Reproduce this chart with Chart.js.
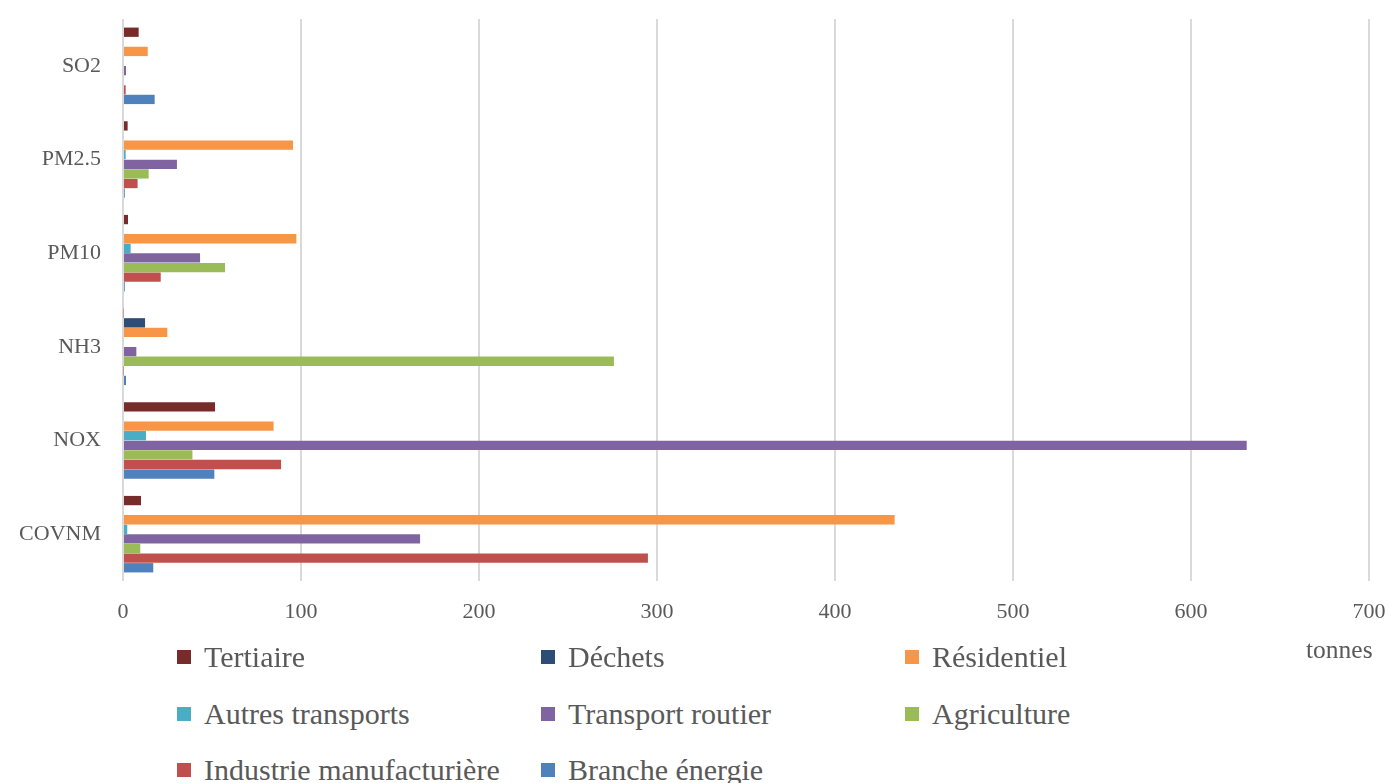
<!DOCTYPE html>
<html>
<head>
<meta charset="utf-8">
<script src="https://cdn.jsdelivr.net/npm/chart.js@4"></script>
<style>
  html, body { margin:0; padding:0; background:#fff; width:1389px; height:783px; overflow:hidden; }
  #wrap { position:absolute; left:0; top:0; width:1389px; height:640px; }
  .leg { position:absolute; display:flex; align-items:center; font-family:'Liberation Serif', serif; font-size:30px; color:#595959; white-space:nowrap; height:40px; }
  .leg .sw { width:14px; height:14px; margin-right:13px; }
  #unit { position:absolute; left:1306px; top:635px; font-family:'Liberation Serif', serif; font-size:25.5px; color:#595959; }
</style>
</head>
<body>
<div id="wrap"><canvas id="c"></canvas></div>
<div id="unit">tonnes</div>
<div id="legend"></div>
<script>
// Categories (top to bottom)
const categories = ['SO2', 'PM2.5', 'PM10', 'NH3', 'NOX', 'COVNM'];
const xTicks = [0, 100, 200, 300, 400, 500, 600, 700];
const seriesNames = ['Tertiaire', 'Déchets', 'Résidentiel', 'Autres transports', 'Transport routier', 'Agriculture', 'Industrie manufacturière', 'Branche énergie'];
const seriesColors = ['#772C2A', '#2C4D75', '#F79646', '#4BACC6', '#8064A2', '#9BBB59', '#C0504D', '#4F81BD'];

// Values per series, order: SO2, PM2.5, PM10, NH3, NOX, COVNM
const tertiaire        = [8.8, 2.6, 2.8, 0.4, 51.7, 10.1];
const dechets          = [0, 0, 0, 12.4, 0, 0];
const residentiel      = [13.9, 95.5, 97.4, 24.9, 84.6, 433.5];
const autresTransports = [0, 1.5, 4.3, 0, 12.9, 2.4];
const transportRoutier = [1.7, 30.3, 43.3, 7.5, 631.3, 166.9];
const agriculture      = [0, 14.4, 57.3, 275.8, 39.0, 9.7];
const industrie        = [1.5, 8.2, 21.2, 0.3, 88.8, 294.9];
const brancheEnergie   = [17.8, 1.0, 1.0, 1.7, 51.3, 17.0];

const seriesValues = [tertiaire, dechets, residentiel, autresTransports, transportRoutier, agriculture, industrie, brancheEnergie];

const datasets = seriesNames.map((n, i) => ({
  label: n,
  data: seriesValues[i],
  backgroundColor: seriesColors[i],
  borderWidth: 0,
  categoryPercentage: 0.82,
  barPercentage: 0.97
}));

Chart.defaults.font.family = "'Liberation Serif', serif";
Chart.defaults.color = '#595959';

function noPad(s) { s.paddingTop = 0; s.paddingBottom = 0; s.paddingLeft = 0; s.paddingRight = 0; }

new Chart(document.getElementById('c'), {
  type: 'bar',
  data: { labels: categories, datasets },
  options: {
    indexAxis: 'y',
    responsive: true,
    maintainAspectRatio: false,
    animation: false,
    layout: { padding: { top: 19, right: 20, left: 0, bottom: 0 } },
    plugins: { legend: { display: false }, tooltip: { enabled: false } },
    scales: {
      x: {
        min: 0, max: 700,
        afterBuildTicks: (s) => { s.ticks = xTicks.map(v => ({ value: v })); },
        afterFit: (s) => { s.height = 59; noPad(s); },
        grid: { color: '#d9d9d9', lineWidth: 2, drawTicks: false },
        border: { display: false },
        ticks: { font: { size: 22 }, padding: 18, color: '#595959' }
      },
      y: {
        afterFit: (s) => { s.width = 123; noPad(s); },
        grid: { display: false, drawTicks: false },
        border: { display: false },
        ticks: { font: { size: 22 }, padding: 22, color: '#595959' }
      }
    }
  }
});

// Legend (3 columns)
const colX = [177, 541, 905];
const rowY = [657, 714, 770];
const leg = document.getElementById('legend');
seriesNames.forEach((n, i) => {
  const d = document.createElement('div');
  d.className = 'leg';
  d.style.left = colX[i % 3] + 'px';
  d.style.top = (rowY[Math.floor(i / 3)] - 20) + 'px';
  d.innerHTML = '<span class="sw" style="background:' + seriesColors[i] + '"></span><span></span>';
  d.lastChild.textContent = n;
  leg.appendChild(d);
});
</script>
</body>
</html>
